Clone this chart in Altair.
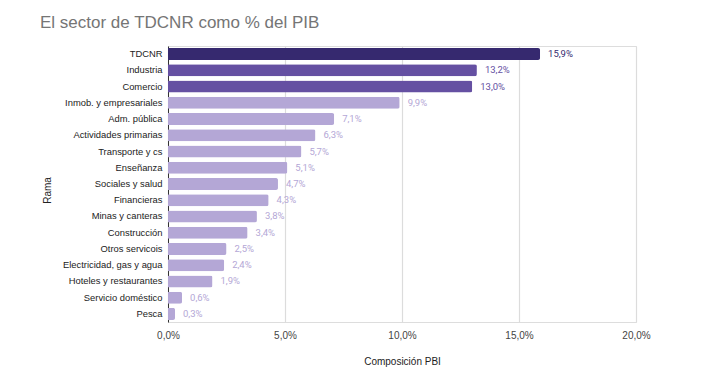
import altair as alt
import pandas as pd

ramas = ["TDCNR", "Industria", "Comercio", "Inmob. y empresariales", "Adm. pública",
         "Actividades primarias", "Transporte y cs", "Enseñanza", "Sociales y salud",
         "Financieras", "Minas y canteras", "Construcción", "Otros servicois",
         "Electricidad, gas y agua", "Hoteles y restaurantes", "Servicio doméstico", "Pesca"]
valores = [15.9, 13.2, 13.0, 9.9, 7.1, 6.3, 5.7, 5.1, 4.7, 4.3, 3.8, 3.4, 2.5, 2.4, 1.9, 0.6, 0.3]
grupos = ["TDCNR", "Alta", "Alta"] + ["Resto"] * 14
ticks = [0, 5, 10, 15, 20]

grupo_dom = ["TDCNR", "Alta", "Resto"]
grupo_col = ["#36296f", "#6550a2", "#b4a7d6"]

df = pd.DataFrame({"Rama": ramas, "v": valores, "g": grupos})

base = alt.Chart(df).transform_calculate(
    lbl="replace(format(datum.v, '.1f'), '.', ',') + '%'"
)

y_enc = alt.Y("Rama:N", sort=ramas, title="Rama",
              scale=alt.Scale(paddingInner=0.26, paddingOuter=0.13),
              axis=alt.Axis(labelFont="Liberation Sans", labelFontSize=9.4, labelColor="#222222",
                            labelPadding=6, ticks=False, domain=True, domainColor="#333333",
                            domainWidth=1, titleFont="Liberation Sans", titleFontSize=10,
                            titleFontWeight="normal", titleColor="#222222",
                            titleX=-121, titleY=144, titleAlign="center", titleAngle=-90,
                            titleBaseline="middle"))

x_enc = alt.X("v:Q", title="Composición PBI",
              scale=alt.Scale(domain=[0, 20], nice=False),
              axis=alt.Axis(values=ticks, labelExpr="replace(format(datum.value, '.1f'), '.', ',') + '%'",
                            labelFont="Liberation Sans", labelFontSize=10, labelColor="#444444",
                            labelPadding=8, labelFlush=False, ticks=False, domain=False, grid=True,
                            gridColor="#dcdcdc", gridWidth=1.2,
                            titleFont="Liberation Sans", titleFontSize=10, titleFontWeight="normal",
                            titleColor="#222222", titlePadding=16))

color_enc = alt.Color("g:N", scale=alt.Scale(domain=grupo_dom, range=grupo_col), legend=None)

bars = base.mark_bar(cornerRadiusEnd=2).encode(y=y_enc, x=x_enc, color=color_enc)

labels = base.mark_text(align="left", baseline="middle", dx=8, font="Roboto", fontSize=9.5).encode(
    y=alt.Y("Rama:N", sort=ramas),
    x=alt.X("v:Q"),
    text="lbl:N",
    color=color_enc,
)

chart = (bars + labels).properties(
    width=468, height=276,
    title=alt.TitleParams("El sector de TDCNR como % del PIB", anchor="start", frame="group", dx=-128,
                          font="Liberation Sans", fontSize=17, fontWeight="normal",
                          color="#757575", offset=14),
    autosize=alt.AutoSizeParams(type="none"),
    padding={"left": 160, "top": 38, "right": 50, "bottom": 60},
).configure_view(stroke=None).configure(background="white")

chart.save("out.html", embed_options={"renderer": "svg", "actions": False})
